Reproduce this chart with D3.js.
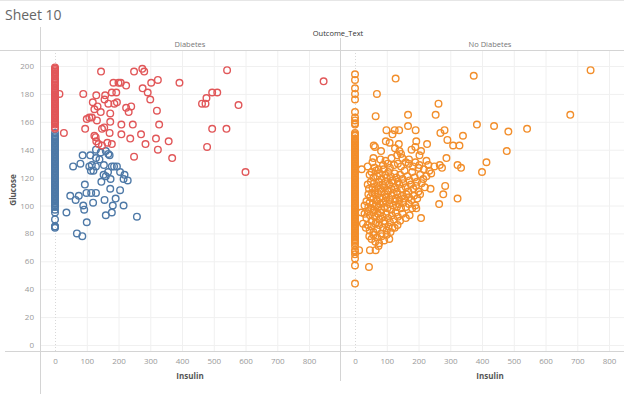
<!DOCTYPE html>
<html>
<head>
<meta charset="utf-8">
<script src="https://cdn.jsdelivr.net/npm/d3@7"></script>
<style>
  body { margin: 0; background: #fff; }
  svg { display: block; font-family: "Open Sans", Lato, sans-serif; }
</style>
</head>
<body>
<script>
// panels and ticks
var panels = ['Diabetes', 'No Diabetes'];
var xTicks = [0, 100, 200, 300, 400, 500, 600, 700, 800];
var yTicks = [0, 20, 40, 60, 80, 100, 120, 140, 160, 180, 200];

// Diabetes, insulin = 0 (glucose only)
var diabZeroRed = [155, 156, 158, 159, 160, 161, 162, 163, 164, 165, 166, 167, 168, 169, 170, 171, 172, 173, 174,
  175, 176, 177, 178, 179, 180, 181, 182, 183, 184, 186, 187, 188, 189, 190, 191, 193, 194, 195, 196, 197, 198, 199];
var diabZeroBlue = [84, 85, 85, 90, 95, 97, 99, 100, 101, 102, 103, 104, 105, 106, 107, 108, 109, 110, 111, 112,
  113, 114, 115, 116, 117, 118, 119, 120, 121, 122, 123, 124, 125, 126, 127, 128, 129, 130, 131, 132, 133, 134,
  135, 136, 137, 138, 139, 140, 141, 142, 143, 144, 145, 146, 147, 148, 149, 150, 152];

// Diabetes, insulin > 0  [insulin, glucose]
var diabRed = [
  [145, 196], [249, 196], [275, 198], [281, 196], [542, 197], [846, 189], [184, 188], [200, 188], [207, 188],
  [224, 186], [303, 188], [324, 190], [392, 188], [14, 180], [89, 180], [130, 179], [158, 179], [179, 181],
  [193, 181], [276, 184], [292, 181], [300, 176], [156, 176], [168, 173], [187, 173], [195, 174], [119, 174],
  [134, 171], [124, 169], [144, 167], [174, 166], [224, 170], [240, 171], [232, 167], [321, 168], [495, 181],
  [511, 181], [477, 177], [463, 173], [474, 173], [578, 172], [100, 162], [108, 163], [116, 163], [132, 161],
  [174, 160], [95, 155], [148, 155], [155, 156], [209, 158], [245, 158], [328, 158], [28, 152], [124, 150],
  [128, 149], [172, 152], [209, 151], [237, 148], [271, 151], [318, 148], [358, 146], [495, 155], [540, 155],
  [130, 146], [137, 144], [148, 143], [165, 145], [179, 144], [285, 144], [324, 140], [479, 142], [249, 135],
  [369, 134], [600, 124]
];
var diabBlue = [
  [87, 136], [111, 136], [129, 140], [144, 138], [160, 139], [168, 137], [172, 136], [129, 134], [140, 133],
  [57, 128], [80, 130], [108, 128], [116, 129], [129, 128], [113, 125], [121, 125], [154, 129], [179, 128],
  [186, 128], [195, 128], [167, 124], [153, 122], [160, 121], [205, 124], [219, 122], [146, 117], [175, 119],
  [216, 119], [229, 118], [94, 115], [174, 112], [205, 111], [48, 107], [75, 107], [65, 104], [99, 109],
  [114, 109], [129, 109], [156, 104], [191, 105], [120, 102], [89, 100], [92, 97], [182, 100], [216, 100],
  [36, 95], [100, 88], [160, 93], [179, 95], [258, 92], [69, 80], [86, 78]
];

// No Diabetes, insulin = 0 (glucose only)
var noDiabZero = [194, 190, 184, 180, 176, 167, 163, 161, 159, 158, 152, 151, 150, 148, 147, 146, 145, 144, 143,
  142, 141, 140, 139, 138, 137, 136, 135, 134, 133, 132, 131, 130, 129, 128, 127, 126, 125, 124, 123, 122, 121,
  120, 119, 118, 117, 116, 115, 114, 113, 112, 111, 110, 109, 108, 107, 106, 105, 104, 103, 102, 101, 100, 99,
  98, 97, 96, 95, 94, 93, 92, 91, 90, 89, 88, 87, 86, 85, 84, 83, 82, 81, 80, 79, 78, 77, 76, 75, 74, 73, 71,
  68, 67, 65, 62, 57, 44];

// No Diabetes, insulin > 0  [insulin, glucose]
var noDiab = [
  [742, 197], [374, 193], [128, 191], [69, 180], [263, 173], [65, 164], [167, 165], [254, 165], [678, 165],
  [167, 157], [384, 158], [438, 157], [483, 153], [542, 155], [99, 154], [118, 151], [125, 154], [139, 154],
  [191, 154], [269, 152], [282, 154], [291, 147], [340, 150], [97, 146], [109, 145], [59, 143], [63, 142],
  [82, 139], [138, 144], [126, 141], [193, 146], [190, 142], [178, 140], [227, 144], [208, 139], [203, 136],
  [309, 143], [329, 143], [478, 139], [140, 139], [133, 136], [145, 137], [149, 134], [58, 134], [288, 134],
  [414, 131], [400, 124], [323, 129], [334, 127], [267, 129], [274, 127], [21, 126], [74, 126], [103, 130],
  [123, 129], [160, 131], [169, 130], [183, 128], [203, 129], [231, 129], [217, 126], [234, 125], [240, 123],
  [284, 114], [278, 108], [265, 101], [323, 105], [208, 91], [44, 56], [13, 68], [47, 68], [65, 68], [74, 71],
  [40, 128], [55, 131], [62, 127], [80, 133], [88, 129], [96, 132], [110, 127], [115, 134], [135, 130],
  [145, 128], [170, 133], [190, 131], [200, 127], [225, 132], [250, 128],
  [46, 122], [52, 124], [58, 120], [66, 125], [70, 121], [78, 123], [84, 119], [90, 126], [95, 122], [100, 120],
  [105, 124], [112, 121], [118, 118], [125, 123], [130, 120], [135, 117], [142, 122], [150, 119], [156, 125],
  [165, 121], [172, 118], [180, 124], [188, 120], [195, 117], [205, 122], [215, 119], [225, 121],
  [40, 115], [44, 112], [50, 117], [55, 113], [60, 116], [64, 111], [70, 114], [75, 117], [80, 112], [86, 115],
  [92, 113], [96, 117], [102, 111], [108, 115], [114, 112], [120, 116], [126, 113], [132, 110], [140, 115],
  [146, 112], [152, 116], [160, 113], [168, 110], [176, 115], [184, 112], [192, 114], [200, 110], [210, 116],
  [220, 113], [238, 112],
  [42, 108], [48, 106], [54, 109], [58, 105], [63, 108], [68, 104], [72, 109], [77, 106], [82, 110], [88, 105],
  [94, 108], [99, 106], [104, 110], [110, 104], [116, 107], [122, 109], [128, 105], [134, 108], [140, 104],
  [148, 107], [155, 105], [162, 108], [170, 106], [178, 104], [186, 107], [196, 105], [205, 108],
  [30, 100], [36, 103], [42, 99], [46, 102], [51, 98], [56, 101], [60, 97], [66, 100], [70, 103], [74, 99],
  [79, 101], [84, 97], [88, 102], [92, 99], [97, 103], [102, 98], [108, 101], [114, 97], [120, 100], [126, 103],
  [132, 99], [138, 101], [145, 98], [152, 102], [160, 99], [170, 101], [180, 98], [190, 100], [193, 98],
  [20, 95], [30, 94], [36, 91], [42, 96], [47, 93], [52, 89], [57, 95], [62, 92], [67, 88], [72, 94], [77, 90],
  [82, 95], [87, 92], [92, 89], [98, 94], [104, 91], [110, 88], [116, 93], [122, 90], [128, 95], [135, 92],
  [142, 89], [150, 94], [160, 91], [172, 93],
  [25, 87], [34, 84], [40, 86], [46, 82], [52, 85], [58, 81], [64, 87], [70, 83], [76, 86], [82, 80], [88, 84],
  [94, 87], [100, 82], [106, 85], [112, 81], [118, 84], [125, 84], [134, 86],
  [45, 78], [52, 76], [58, 79], [64, 74], [70, 77], [76, 73], [84, 78], [92, 75], [100, 79], [108, 76]
];

var RED = '#e15759', BLUE = '#4e79a7', ORANGE = '#f28e2b';

var width = 624, height = 394;
var svg = d3.select('body').append('svg')
    .attr('width', width)
    .attr('height', height);

var plotTop = 50, plotBottom = 351;
var panelX = [40, 340], panelW = 300;

var y = d3.scaleLinear().domain([0, 200]).range([345, 66]);
var xs = panelX.map(function(px) {
  return d3.scaleLinear().domain([0, 800]).range([px + 15, px + 269]);
});

// title
svg.append('text').attr('x', 5).attr('y', 20)
    .attr('font-size', 14).attr('fill', '#666')
    .text('Sheet 10');

svg.append('line').attr('x1', 0).attr('x2', width).attr('y1', 0.5).attr('y2', 0.5).attr('stroke', '#e6e6e6');

// headers
svg.append('text').attr('x', 338).attr('y', 36)
    .attr('text-anchor', 'middle').attr('font-size', 7.5).attr('fill', '#333')
    .text('Outcome_Text');
panels.forEach(function(p, i) {
  svg.append('text').attr('x', panelX[i] + 150).attr('y', 47)
      .attr('text-anchor', 'middle').attr('font-size', 7.5).attr('fill', '#777')
      .text(p);
});

// clip so the right panel stops at the window edge
svg.append('clipPath').attr('id', 'clip')
  .append('rect').attr('x', 40).attr('y', plotTop).attr('width', width - 40).attr('height', plotBottom - plotTop);

var grid = svg.append('g');
panels.forEach(function(p, i) {
  var x = xs[i];
  var x0 = panelX[i], x1 = Math.min(panelX[i] + panelW, width);
  grid.selectAll('.h' + i).data(yTicks.filter(function(t) { return t > 0; })).enter().append('line')
      .attr('x1', x0).attr('x2', x1)
      .attr('y1', function(d) { return y(d) + 0.5; }).attr('y2', function(d) { return y(d) + 0.5; })
      .attr('stroke', '#f0f0f0');
  grid.selectAll('.v' + i).data(xTicks.filter(function(t) { return t > 0 && x(t) < x1; })).enter().append('line')
      .attr('x1', function(d) { return x(d) + 0.5; }).attr('x2', function(d) { return x(d) + 0.5; })
      .attr('y1', plotTop).attr('y2', plotBottom)
      .attr('stroke', '#f0f0f0');
  grid.append('line')
      .attr('x1', x(0) + 0.5).attr('x2', x(0) + 0.5)
      .attr('y1', plotTop).attr('y2', plotBottom)
      .attr('stroke', '#d8d8d8').attr('stroke-dasharray', '1,2');
  grid.append('line')
      .attr('x1', x0).attr('x2', x1)
      .attr('y1', y(0) + 0.5).attr('y2', y(0) + 0.5)
      .attr('stroke', '#f0f0f0');

  // x axis labels
  var xa = svg.append('g').attr('transform', 'translate(0,' + plotBottom + ')')
      .call(d3.axisBottom(x).tickValues(xTicks.filter(function(t) { return x(t) < x1 - 4; })).tickSize(0).tickPadding(7));
  xa.select('.domain').remove();
  xa.selectAll('text').attr('font-size', 8).attr('fill', '#999').attr('font-family', 'Open Sans, sans-serif');

  svg.append('text').attr('x', panelX[i] + 150).attr('y', 379)
      .attr('text-anchor', 'middle').attr('font-size', 8).attr('font-weight', 'bold').attr('fill', '#555')
      .text('Insulin');
});

// frame lines
svg.append('line').attr('x1', 0).attr('x2', width).attr('y1', plotTop + 0.5).attr('y2', plotTop + 0.5).attr('stroke', '#d4d4d4');
svg.append('line').attr('x1', 5).attr('x2', width).attr('y1', plotBottom + 0.5).attr('y2', plotBottom + 0.5).attr('stroke', '#d4d4d4');
svg.append('line').attr('x1', 40.5).attr('x2', 40.5).attr('y1', 27).attr('y2', height).attr('stroke', '#d4d4d4');
svg.append('line').attr('x1', 340.5).attr('x2', 340.5).attr('y1', 38).attr('y2', 381).attr('stroke', '#d4d4d4');

// y axis
var ya = svg.append('g').attr('transform', 'translate(40,0)')
    .call(d3.axisLeft(y).tickValues(yTicks).tickSize(0).tickPadding(6));
ya.select('.domain').remove();
ya.selectAll('text').attr('font-size', 8).attr('fill', '#999').attr('font-family', 'Open Sans, sans-serif');

svg.append('text')
    .attr('transform', 'translate(16,190) rotate(-90)')
    .attr('text-anchor', 'middle').attr('font-size', 8).attr('font-weight', 'bold').attr('fill', '#555')
    .text('Glucose');

// marks
var marks = svg.append('g').attr('clip-path', 'url(#clip)');
function drawSeries(pts, x, color) {
  marks.append('g').selectAll('circle').data(pts).enter().append('circle')
      .attr('cx', function(d) { return x(d[0]); })
      .attr('cy', function(d) { return y(d[1]); })
      .attr('r', 3.3)
      .attr('fill', 'none')
      .attr('stroke', color)
      .attr('stroke-width', 1.4);
}
function zeros(vals) { return vals.map(function(g) { return [0, g]; }); }

drawSeries(zeros(diabZeroBlue), xs[0], BLUE);
drawSeries(diabBlue, xs[0], BLUE);
drawSeries(zeros(diabZeroRed), xs[0], RED);
drawSeries(diabRed, xs[0], RED);
drawSeries(zeros(noDiabZero), xs[1], ORANGE);
drawSeries(noDiab, xs[1], ORANGE);
</script>
</body>
</html>
